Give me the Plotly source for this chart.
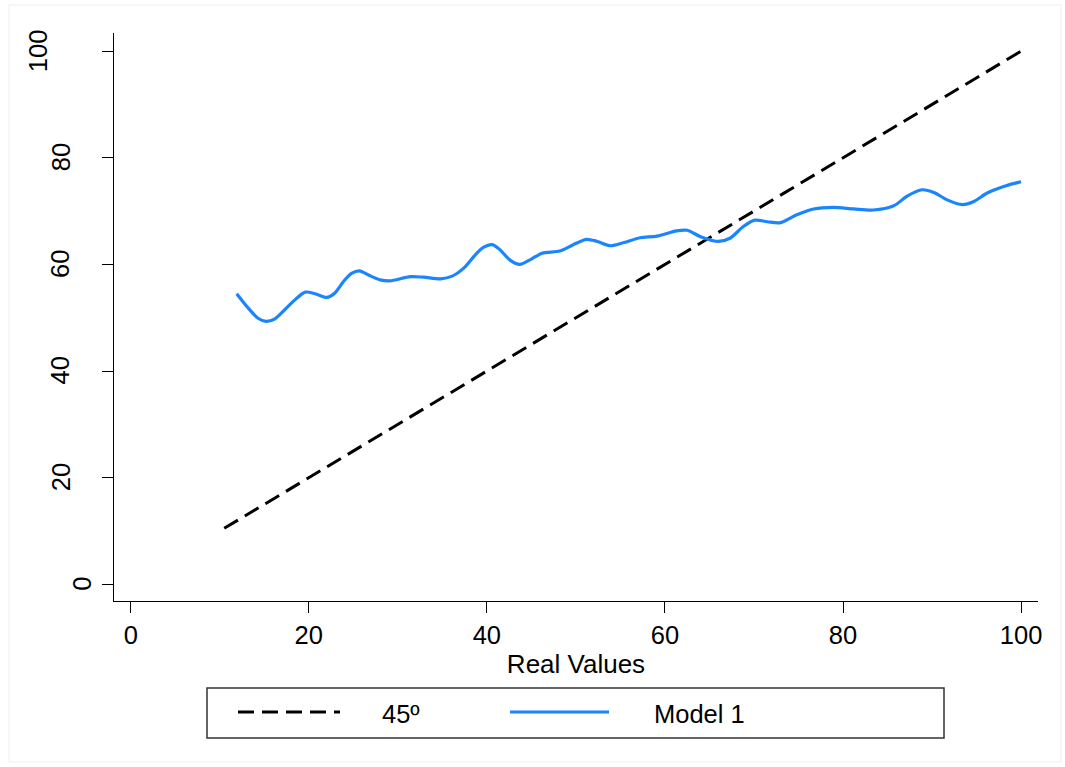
import plotly.graph_objects as go

# ---- data ----
real_values = [11.9, 13.2, 14.3, 15.2, 16.2, 17.3, 18.4, 19.6, 20.7, 22.0, 22.9, 23.9, 24.8, 25.7,
               26.7, 28.0, 29.1, 31.4, 32.9, 34.8, 36.1, 37.4, 38.7, 39.6, 40.6, 41.5, 42.6, 43.7,
               44.9, 46.2, 48.2, 49.7, 51.2, 52.4, 53.9, 55.4, 57.2, 59.1, 61.3, 62.5, 64.0, 66.0,
               67.3, 68.8, 70.1, 71.5, 72.9, 74.8, 76.7, 78.9, 81.2, 83.4, 85.7, 87.2, 88.9, 90.2,
               91.7, 93.4, 94.7, 96.2, 98.4, 100.0]
model1 = [54.5, 51.8, 49.9, 49.3, 49.8, 51.5, 53.3, 54.8, 54.5, 53.8, 54.6, 56.8, 58.3, 58.8,
          58.0, 57.1, 56.9, 57.7, 57.6, 57.3, 57.8, 59.3, 61.8, 63.2, 63.7, 62.7, 60.8, 60.0,
          60.9, 62.1, 62.5, 63.7, 64.7, 64.3, 63.5, 64.1, 65.0, 65.3, 66.3, 66.4, 65.2, 64.3,
          64.9, 67.1, 68.3, 68.0, 67.8, 69.3, 70.4, 70.7, 70.4, 70.2, 71.0, 72.8, 74.0, 73.5,
          72.1, 71.2, 71.8, 73.4, 74.8, 75.5]
line45_x = [10.5, 100.0]
line45_y = [10.5, 100.0]

x_ticks = [0, 20, 40, 60, 80, 100]
y_ticks = [0, 20, 40, 60, 80, 100]
x_title = "Real Values"
legend_labels = ["45º", "Model 1"]

BLUE = "#1a85ff"
FONT = "Liberation Sans, Arial, sans-serif"

# ---- layout geometry ----
W, H = 1065, 767
L, R, T, B = 114, 27, 33, 166
PW, PH = W - L - R, H - T - B


def px(xp):
    return (xp - L) / PW


def py(yp):
    return (H - B - yp) / PH


fig = go.Figure()
fig.add_trace(go.Scatter(x=line45_x, y=line45_y, mode="lines", name=legend_labels[0],
                         line=dict(color="black", width=3, dash="16px,8px"), showlegend=False))
fig.add_trace(go.Scatter(x=real_values, y=model1, mode="lines", name=legend_labels[1],
                         line=dict(color=BLUE, width=3.2, shape="spline", smoothing=0.8),
                         showlegend=False))

axis_common = dict(showgrid=False, zeroline=False, showline=True, linecolor="black", linewidth=1.3,
                   ticks="outside", ticklen=11, tickwidth=1.3, tickcolor="black",
                   tickfont=dict(family=FONT, size=25.5, color="black"))

fig.update_xaxes(range=[-1.88, 101.9], tickvals=x_ticks, ticktext=[str(v) for v in x_ticks],
                 ticklabelstandoff=0,
                 title=dict(text=x_title, font=dict(family=FONT, size=26, color="black"), standoff=7),
                 **axis_common)
fig.update_yaxes(range=[-3.13, 103.4], tickvals=y_ticks, showticklabels=False, **axis_common)

annotations = []
# y tick labels (rotated, Stata-style staggered)
for v in y_ticks:
    n = len(str(v))
    cx = {1: 82.5, 2: 60.5, 3: 38.0}[n]
    annotations.append(dict(x=px(cx), xref="paper", y=v, yref="y", text=str(v), textangle=-90,
                            showarrow=False, xanchor="center", yanchor="middle",
                            font=dict(family=FONT, size=25.5, color="black")))

# legend (manual, Stata-style wide box)
leg_y = 712
annotations.append(dict(x=px(380), y=py(714), xref="paper", yref="paper", text=legend_labels[0],
                        showarrow=False, xanchor="left", yanchor="middle",
                        font=dict(family=FONT, size=25.5, color="black")))
annotations.append(dict(x=px(652), y=py(714), xref="paper", yref="paper", text=legend_labels[1],
                        showarrow=False, xanchor="left", yanchor="middle",
                        font=dict(family=FONT, size=25.5, color="black")))

shapes = [
    # outer faint frame
    dict(type="rect", xref="paper", yref="paper", x0=px(9), x1=px(1061), y0=py(762), y1=py(5),
         line=dict(color="#efefef", width=1), layer="below"),
    # legend box
    dict(type="rect", xref="paper", yref="paper", x0=px(207), x1=px(944), y0=py(738), y1=py(688),
         line=dict(color="#333333", width=1.5)),
    dict(type="line", xref="paper", yref="paper", x0=px(238), x1=px(340), y0=py(leg_y), y1=py(leg_y),
         line=dict(color="black", width=3, dash="16px,8px")),
    dict(type="line", xref="paper", yref="paper", x0=px(510), x1=px(609), y0=py(leg_y), y1=py(leg_y),
         line=dict(color=BLUE, width=3.2)),
]

fig.update_layout(width=W, height=H, margin=dict(l=L, r=R, t=T, b=B, pad=0),
                  paper_bgcolor="white", plot_bgcolor="white",
                  font=dict(family=FONT, color="black"),
                  showlegend=False, annotations=annotations, shapes=shapes)

fig.write_html("out.html")
